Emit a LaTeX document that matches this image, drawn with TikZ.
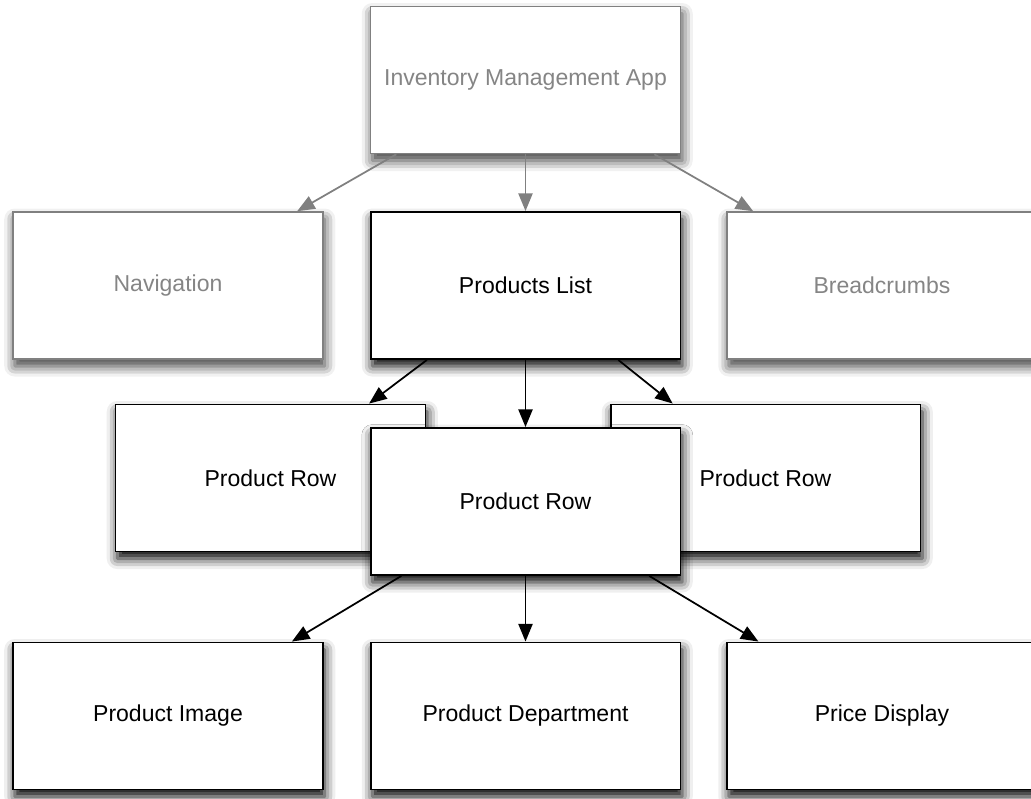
\documentclass[tikz,border=0pt]{standalone}
\usepackage{fontspec}
\setmainfont{Liberation Sans}
\usetikzlibrary{arrows.meta,shadows.blur}
\definecolor{greyline}{HTML}{808080}
\definecolor{greytext}{HTML}{858585}
\tikzset{
  box/.style={draw, line width=1.1pt, fill=white, minimum width=6.2cm, minimum height=2.94cm,
    font=\fontsize{13.1}{15}\selectfont, inner sep=0pt,
    blur shadow={shadow xshift=1pt, shadow yshift=-4pt, shadow blur radius=6pt, shadow opacity=100}},
  greybox/.style={box, line width=0.9pt, draw=greyline, text=greytext,
    blur shadow={shadow xshift=1pt, shadow yshift=-4pt, shadow blur radius=6pt, shadow opacity=45}},
  mainbox/.style={box, draw=black, text=black},
  link/.style={-{Triangle[length=10pt,width=8pt]}, line width=1pt},
  greylink/.style={link, draw=greyline, color=greyline}
}
\begin{document}
\begin{tikzpicture}[x=0.02cm,y=-0.02cm]
      \useasboundingbox (0,0) rectangle (1031,798);
      \clip (0,0) rectangle (1031,798);
      % top row, greyed out
      \node[greybox] (app) at (525.5,80) {Inventory Management App};
      \node[greybox] (nav) at (168,285.5) {Navigation};
      \node[greybox] (crumbs) at (882,285.5) {Breadcrumbs};
      \node[mainbox] (list) at (525.5,285.5) {Products List};
      % stacked rows
      \node[mainbox] (rowl) at (270.5,478) {Product Row};
      \node[mainbox] (rowr) at (765.5,478) {Product Row};
      \node[mainbox] (rowc) at (525.5,501.5) {Product Row};
      % children of a row
      \node[mainbox] (image) at (168,716) {Product Image};
      \node[mainbox] (dept) at (525.5,716) {Product Department};
      \node[mainbox] (price) at (882,716) {Price Display};
      \draw[greylink] (app) -- (nav);
      \draw[greylink] (app) -- (list);
      \draw[greylink] (app) -- (crumbs);
      \draw[link] (list) -- (rowl);
      \draw[link] (list) -- (rowc);
      \draw[link] (list) -- (rowr);
      \draw[link] (rowc) -- (image);
      \draw[link] (rowc) -- (dept);
      \draw[link] (rowc) -- (price);
\end{tikzpicture}
\end{document}
